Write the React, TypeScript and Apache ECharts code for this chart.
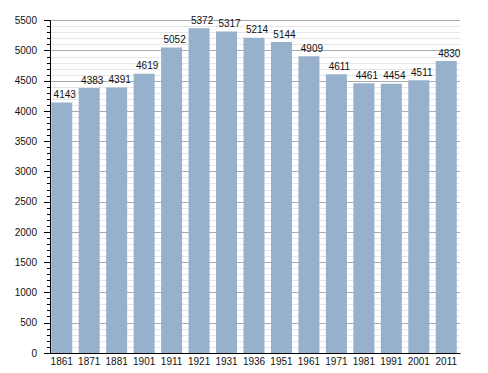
import React, { useEffect, useRef } from "react";
import * as echarts from "echarts";

const years = ["1861","1871","1881","1901","1911","1921","1931","1936","1951","1961","1971","1981","1991","2001","2011"];
const population = [4143,4383,4391,4619,5052,5372,5317,5214,5144,4909,4611,4461,4454,4511,4830];
const yMax = 5500;
const yInterval = 500;

export default function App() {
  const ref = useRef<HTMLDivElement>(null);
  useEffect(() => {
    document.body.style.margin = "0";
    const chart = echarts.init(ref.current!, null, { renderer: "svg" });
    chart.setOption({
      animation: false,
      backgroundColor: "#ffffff",
      grid: { left: 48, right: 28, top: 20.5, bottom: 20, containLabel: false },
      xAxis: {
        type: "category",
        data: years,
        axisLine: { lineStyle: { color: "#000", width: 1 } },
        axisTick: { show: false },
        axisLabel: { color: "#111", fontSize: 10, fontFamily: "Liberation Sans, Arial, sans-serif", margin: 3, interval: 0 },
      },
      yAxis: {
        type: "value",
        min: 0,
        max: yMax,
        interval: yInterval,
        offset: -2,
        axisLine: { show: true, lineStyle: { color: "#000", width: 1 } },
        axisTick: { show: true, length: 6, lineStyle: { color: "#000" } },
        minorTick: { show: true, splitNumber: 5, length: 3, lineStyle: { color: "#000" } },
        axisLabel: {
          color: "#111",
          fontSize: 10,
          fontFamily: "Liberation Sans, Arial, sans-serif",
          margin: 13,
          formatter: (v: number) => String(v),
        },
        splitLine: { show: true, lineStyle: { color: "#aaaaaa", width: 1 } },
        minorSplitLine: { show: true, lineStyle: { color: "#e6e6e6", width: 1 } },
      },
      series: [
        {
          type: "bar",
          data: population,
          barWidth: 21,
          itemStyle: { color: "#97b0cc" },
          label: {
            show: true,
            position: "top",
            distance: 3,
            offset: [3, 0],
            color: "#111",
            fontSize: 10,
            fontFamily: "Liberation Sans, Arial, sans-serif",
          },
        },
      ],
    });
    return () => chart.dispose();
  }, []);
  return <div ref={ref} style={{ width: 488, height: 373 }} />;
}
